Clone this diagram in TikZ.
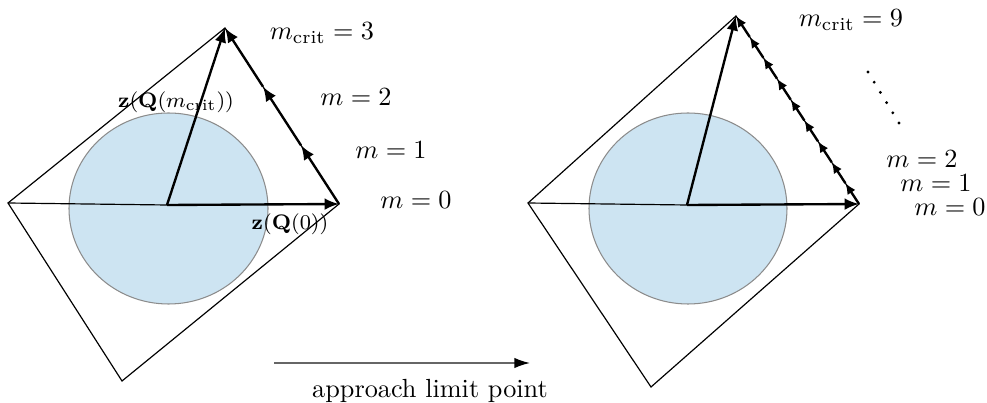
\documentclass[tikz,border=0pt]{standalone}
\usepackage{amsmath,amssymb}
\usepackage{tikz}
\usetikzlibrary{arrows.meta,calc}
\definecolor{discblue}{RGB}{205,228,242}

\begin{document}
\begin{tikzpicture}[x=0.0134cm,y=-0.0134cm,
  frame/.style={draw=black,line width=0.45pt},
  vec/.style={line width=0.9pt,-{Latex[length=5.5pt,width=4.5pt]}},
  stepvec/.style={line width=0.9pt,-{Latex[length=4.2pt,width=3.6pt]}},
  disc/.style={fill=discblue,draw=black!45,line width=0.4pt}]
\useasboundingbox (0,0) rectangle (987,403);

% left picture, three steps
\coordinate (L1) at (8,203);
\coordinate (T1) at (225,28);
\coordinate (R1) at (339,204);
\coordinate (B1) at (122,381);
\coordinate (O1) at (167,205);
\draw[disc] (168.5,208.5) ellipse (99.5 and 95.5);
\draw[frame] (L1) -- (T1) -- (R1) -- (B1) -- cycle;
\draw[frame] (L1) -- (O1);
\draw[vec] (O1) -- (R1);
\draw[vec] (O1) -- (T1);
\coordinate (a0) at (R1);
\foreach \i in {1,2,3} {
  \pgfmathtruncatemacro{\j}{\i-1}
  \coordinate (a\i) at ($(R1)!\i/3!(T1)$);
  \draw[vec] (a\j) -- (a\i);
}
\node (crit1) at (322,33) {$m_{\text{crit}} = 3$};
\node (two1) at (356,97) {$m = 2$};
\node (one1) at (391,150) {$m = 1$};
\node (zero1) at (416,200) {$m = 0$};
\node[font=\footnotesize] (zcrit) at (176,102) {$\mathbf{z}(\mathbf{Q}(m_{\text{crit}}))$};
\node[font=\footnotesize] (zzero) at (290,224) {$\mathbf{z}(\mathbf{Q}(0))$};

% arrow between the two
\coordinate (ap0) at (274,363);
\coordinate (ap1) at (530,363);
\draw[black!60,line width=0.6pt,-{Latex[black,length=6pt,width=4pt]}] (ap0) -- (ap1);
\node (approach) at (430,391) {approach limit point};

% right picture, nine steps
\coordinate (L2) at (528,203);
\coordinate (T2) at (736,16);
\coordinate (R2) at (859,204);
\coordinate (B2) at (651,387);
\coordinate (O2) at (687,205);
\draw[disc] (688,208.5) ellipse (99 and 95.5);
\draw[frame] (L2) -- (T2) -- (R2) -- (B2) -- cycle;
\draw[frame] (L2) -- (O2);
\draw[vec] (O2) -- (R2);
\draw[vec] (O2) -- (T2);
\coordinate (b0) at (R2);
\foreach \i in {1,...,9} {
  \pgfmathtruncatemacro{\j}{\i-1}
  \coordinate (b\i) at ($(R2)!\i/9!(T2)$);
  \draw[stepvec] (b\j) -- (b\i);
}
\node (crit2) at (851,20) {$m_{\text{crit}} = 9$};
\node (two2) at (922,159) {$m = 2$};
\node (one2) at (936,183) {$m = 1$};
\node (zero2) at (950,207) {$m = 0$};
\foreach \k in {0,...,5}
  \fill ({868+6.2*\k},{72+10.2*\k}) circle (0.6pt);
\end{tikzpicture}
\end{document}
